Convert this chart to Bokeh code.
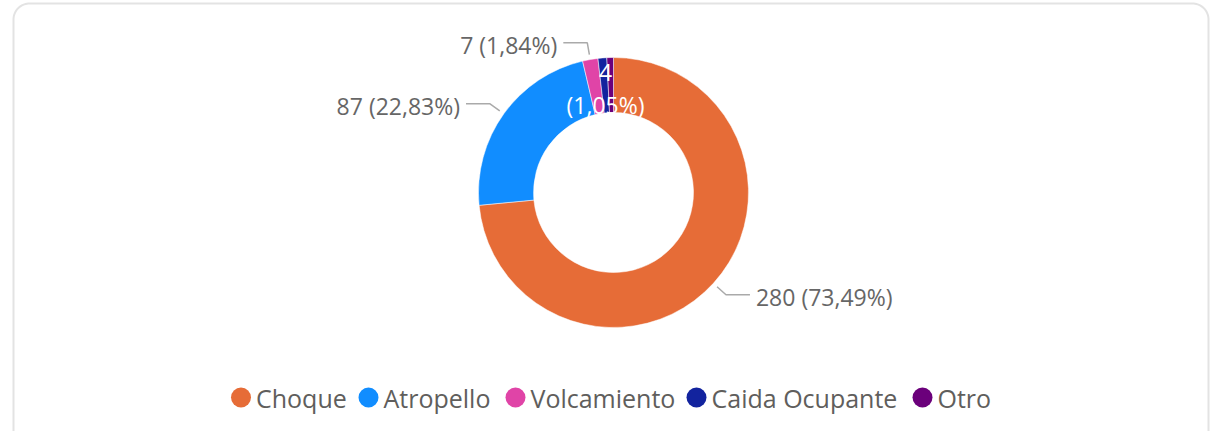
import numpy as np
from bokeh.plotting import figure
from bokeh.models import Range1d, ColumnDataSource
from bokeh.core.properties import value
from bokeh.embed import file_html
from bokeh.resources import INLINE

# ---- data ----
categories = ["Choque", "Atropello", "Volcamiento", "Caida Ocupante", "Otro"]
counts = [280, 87, 7, 4, 3]
colors = ["#E66C37", "#118DFF", "#E044A7", "#12239E", "#6B007B"]

W, H = 1211, 431
FONT = "Open Sans"
GRAY = "#605E5C"

def Y(y):
    return H - y

p = figure(width=W, height=H, x_range=Range1d(0, W), y_range=Range1d(0, H),
           output_backend="svg", toolbar_location=None, min_border=0)
p.axis.visible = False
p.grid.visible = False
p.outline_line_color = None
p.background_fill_color = "white"
p.border_fill_color = "white"

# ---- card border (rounded) ----
x0, x1, yt, rr = 13, 1208, 3, 16
pts_x, pts_y = [x0], [H + 20]
th = np.linspace(np.pi, 1.5 * np.pi, 20)
pts_x += list(x0 + rr + rr * np.cos(th)); pts_y += list(yt + rr + rr * np.sin(th))
th = np.linspace(1.5 * np.pi, 2 * np.pi, 20)
pts_x += list(x1 - rr + rr * np.cos(th)); pts_y += list(yt + rr + rr * np.sin(th))
pts_x += [x1]; pts_y += [H + 20]
p.line(pts_x, [Y(v) for v in pts_y], line_color="#e3e3e3", line_width=2)

# ---- donut ----
cx, cy = 613, 192
r_out, r_in = 135, 80
total = sum(counts)
fr = np.array(counts) / total
cum = np.concatenate([[0], np.cumsum(fr)])
start = np.pi / 2 - 2 * np.pi * cum[:-1]
end = np.pi / 2 - 2 * np.pi * cum[1:]
src = ColumnDataSource(dict(cat=categories, start=start, end=end, color=colors))
p.annular_wedge(x=cx, y=Y(cy), inner_radius=r_in, outer_radius=r_out,
                start_angle="start", end_angle="end", direction="clock",
                fill_color="color", line_color="white", line_width=0.5, source=src)

def lab(i):
    pct = 100 * counts[i] / total
    return f"{counts[i]} ({pct:.2f}%)".replace(".", ",")

# outside labels with leader lines
for i in [0, 1, 2]:
    mid = 2 * np.pi * (cum[i] + cum[i + 1]) / 2
    sx, sy = np.sin(mid), -np.cos(mid)
    ax, ay = cx + 140 * sx, cy + 140 * sy
    ex, ey = cx + 152 * sx, cy + 152 * sy
    side = 1 if sx > 0 else -1
    hx = ex + side * 24
    p.line([ax, ex, hx], [Y(ay), Y(ey), Y(ey)], line_color="#aaaaaa", line_width=1.5)
    p.text(x=[hx + side * 6], y=[Y(ey + 2)], text=[lab(i)],
           text_align="left" if side > 0 else "right", text_baseline="middle",
           text_font=value(FONT), text_font_size="23px", text_color="#666666")

# inside label for Caida Ocupante
pct3 = f"({100 * counts[3] / total:.2f}%)".replace(".", ",")
p.text(x=[605, 605], y=[Y(72), Y(104)], text=[str(counts[3]), pct3],
       text_align="center", text_baseline="middle",
       text_font=value(FONT), text_font_size="23px", text_color="white")

# ---- legend ----
leg_x = [240.5, 368, 515, 696, 922]
leg_y = 397
p.scatter(x=leg_x, y=[Y(leg_y)] * 5, size=20, marker="circle",
          fill_color=colors, line_color=None)
p.text(x=[v + 15 for v in leg_x], y=[Y(leg_y)] * 5, text=categories,
       text_align="left", text_baseline="middle",
       text_font=value(FONT), text_font_size="25px", text_color=GRAY)

open("out.html", "w").write(file_html(p, INLINE))
